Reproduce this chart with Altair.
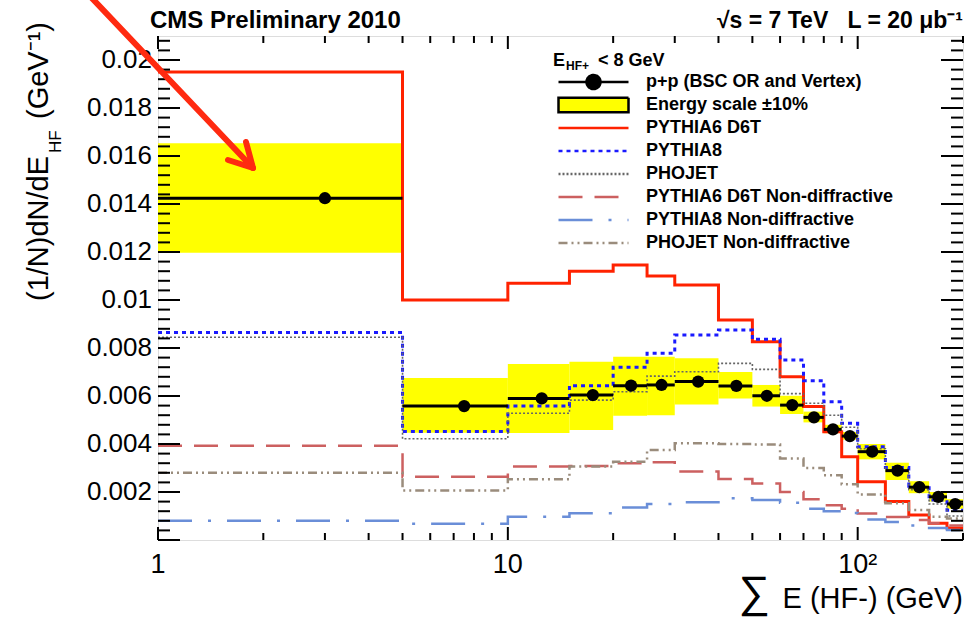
import altair as alt
import pandas as pd

# ---------------- data ----------------
EDGES = [1, 5, 10, 15, 20, 25, 30, 40, 50, 60, 70, 80, 90, 100, 120, 140, 160, 180, 200]

DATA_PP = [0.01424, 0.00558, 0.0059, 0.00604, 0.00643, 0.00646, 0.0066, 0.00642, 0.00601,
           0.00562, 0.00511, 0.00461, 0.00433, 0.00368, 0.00289, 0.0022, 0.0018, 0.0015]
BAND_LO = [0.01197, 0.00447, 0.00446, 0.00458, 0.00518, 0.0052, 0.00565, 0.0059, 0.00556,
           0.00525, 0.0049, 0.00445, 0.00418, 0.00336, 0.0025, 0.00195, 0.0016, 0.0013]
BAND_HI = [0.01653, 0.00675, 0.00733, 0.00743, 0.00764, 0.00764, 0.00757, 0.0070, 0.00646,
           0.00601, 0.00535, 0.0048, 0.0045, 0.0040, 0.00322, 0.00245, 0.0020, 0.0017]

PYTHIA6 = [0.0195, 0.0100, 0.0107, 0.0112, 0.01146, 0.0110, 0.01063, 0.00917, 0.00826,
           0.0068, 0.00556, 0.00451, 0.00347, 0.00243, 0.0016, 0.00104, 0.0007, 0.0005]
PYTHIA8 = [0.00865, 0.00452, 0.00558, 0.00643, 0.0072, 0.00778, 0.00854, 0.00875, 0.00836,
           0.0075, 0.00664, 0.00576, 0.00486, 0.00389, 0.00302, 0.00224, 0.00167, 0.00124]
PHOJET = [0.00845, 0.00422, 0.00528, 0.00583, 0.00618, 0.00683, 0.00701, 0.00736, 0.00711,
          0.0061, 0.0057, 0.0052, 0.0047, 0.0038, 0.0029, 0.0021, 0.0015, 0.0010]
PYTHIA6_ND = [0.00393, 0.00264, 0.00306, 0.00308, 0.0032, 0.00324, 0.00285, 0.00254, 0.00235,
              0.0020, 0.0017, 0.00145, 0.0013, 0.0011, 0.00096, 0.00083, 0.0007, 0.0006]
PYTHIA8_ND = [0.0008, 0.00068, 0.00097, 0.00111, 0.00135, 0.0015, 0.00157, 0.00174, 0.00167,
              0.00155, 0.0013, 0.0012, 0.00112, 0.00085, 0.00075, 0.0006, 0.0005, 0.00042]
PHOJET_ND = [0.0028, 0.00206, 0.00253, 0.00306, 0.00326, 0.00375, 0.00403, 0.0040, 0.00398,
             0.0034, 0.0030, 0.0027, 0.00232, 0.0019, 0.00153, 0.00125, 0.00097, 0.0009]

SERIES = ["p+p (BSC OR and Vertex)", "Energy scale \u00b110%", "PYTHIA6 D6T", "PYTHIA8", "PHOJET",
          "PYTHIA6 D6T Non-diffractive", "PYTHIA8 Non-diffractive", "PHOJET Non-diffractive"]

X_MAJOR = [1, 10, 100]
X_LABELS = ["1", "10", "10\u00b2"]
X_MINOR = [2, 3, 4, 5, 6, 7, 8, 9, 20, 30, 40, 50, 60, 70, 80, 90, 200]
Y_LABELS = [0.002, 0.004, 0.006, 0.008, 0.01, 0.012, 0.014, 0.016, 0.018, 0.02]
Y_MAJOR = [0.0] + Y_LABELS
Y_MINOR = [round(i * 0.0004, 4) for i in range(1, 53) if i % 5 != 0]

TITLE_LEFT = "CMS Preliminary 2010"
TITLE_RIGHT = "\u221as = 7 TeV\u00a0\u00a0\u00a0L = 20\u00a0\u03bcb\u207b\u00b9"
YT_MAIN = "(1/N)dN/dE"
YT_SUB = "HF"
YT_UNIT = "(GeV\u207b\u00b9)"
XT_SIGMA = "\u2211"
XT_MAIN = "E (HF-) (GeV)"
LEG_E = "E"
LEG_SUB = "HF+"
LEG_REST = "< 8 GeV"

# ---------------- styles ----------------
FONT = "Liberation Sans"
STROKES = ["black", "black", "#ff2200", "#1a1aff", "#666666", "#cc6060", "#6a8ed8", "#9a8c7c"]
FILLS = ["black", "#ffff00", "transparent", "transparent", "transparent", "transparent",
         "transparent", "transparent"]
DASHES = [[1, 0], [1, 0], [1, 0], [4, 4], [2, 2], [24, 12], [34, 16, 3, 16], [9, 4, 2, 4, 2, 4]]
SHAPES = ["M-1,0H1M0.2,0A0.2,0.2,0,1,1,-0.2,0A0.2,0.2,0,1,1,0.2,0Z",
          "M-1,-0.21H1V0.21H-1Z",
          "M-1,0H1", "M-1,0H1", "M-1,0H1", "M-1,0H1", "M-1,0H1", "M-1,0H1"]

W, H = 805, 504

# ---------------- tables ----------------
bins = pd.DataFrame({"lo": EDGES[:-1], "hi": EDGES[1:], "val": DATA_PP,
                     "band_lo": BAND_LO, "band_hi": BAND_HI})

model_vals = {SERIES[2]: PYTHIA6, SERIES[3]: PYTHIA8, SERIES[4]: PHOJET,
              SERIES[5]: PYTHIA6_ND, SERIES[6]: PYTHIA8_ND, SERIES[7]: PHOJET_ND}
rows = []
for name, vals in model_vals.items():
    for e, v in zip(EDGES, vals + [vals[-1]]):
        rows.append({"series": name, "edge": e, "value": v})
lines_df = pd.DataFrame(rows)

xs = alt.Scale(type="log", domain=[1, 200], nice=False)
ys = alt.Scale(domain=[0, 0.021], nice=False, zero=False)

stroke_scale = alt.Scale(domain=SERIES, range=STROKES)
fill_scale = alt.Scale(domain=SERIES, range=FILLS)
dash_scale = alt.Scale(domain=SERIES, range=DASHES)
shape_scale = alt.Scale(domain=SERIES, range=SHAPES)

# ---------------- legend carrier (first layer so its legend settings win) ----------------
leg = alt.Legend(title=None, orient="none", legendX=399, legendY=35.5, padding=0,
                 symbolSize=4900, symbolStrokeWidth=2.5, symbolFillColor="white",
                 symbolStrokeColor="black", symbolOffset=0, symbolOpacity=1,
                 clipHeight=21, rowPadding=2,
                 labelFont=FONT, labelFontSize=18, labelFontWeight="bold", labelColor="black",
                 labelOffset=16, labelLimit=500)

carrier = alt.Chart(pd.DataFrame({"series": SERIES})).transform_filter("false").mark_point().encode(
    shape=alt.Shape("series:N", scale=shape_scale, legend=leg),
    fill=alt.Fill("series:N", scale=fill_scale, legend=leg),
    stroke=alt.Stroke("series:N", scale=stroke_scale, legend=leg),
    strokeDash=alt.StrokeDash("series:N", scale=dash_scale, legend=leg))

# ---------------- data layers ----------------
band = alt.Chart(bins).mark_rect(color="#ffff00").encode(
    x=alt.X("lo:Q", scale=xs, axis=None), x2="hi:Q",
    y=alt.Y("band_lo:Q", scale=ys, axis=None), y2="band_hi:Q")


def model_layer(names, width):
    return alt.Chart(lines_df).transform_filter(
        alt.FieldOneOfPredicate(field="series", oneOf=names)
    ).mark_line(interpolate="step-after", strokeWidth=width, clip=True).encode(
        x=alt.X("edge:Q", scale=xs, axis=None),
        y=alt.Y("value:Q", scale=ys, axis=None),
        stroke=alt.Stroke("series:N", scale=stroke_scale, legend=None),
        strokeDash=alt.StrokeDash("series:N", scale=dash_scale, legend=None))


lineA = model_layer([SERIES[2], SERIES[3]], 3)
lineB = model_layer([SERIES[4]], 1.6)
lineC = model_layer([SERIES[5], SERIES[6], SERIES[7]], 2.5)

errx = alt.Chart(bins).mark_rule(color="black", strokeWidth=3).encode(
    x=alt.X("lo:Q", scale=xs, axis=None), x2="hi:Q",
    y=alt.Y("val:Q", scale=ys, axis=None))

points = alt.Chart(bins).transform_calculate(center="(datum.lo + datum.hi) / 2").mark_circle(
    color="black", size=150, opacity=1).encode(
    x=alt.X("center:Q", scale=xs, axis=None),
    y=alt.Y("val:Q", scale=ys, axis=None))


# ---------------- inward ROOT-style ticks on all four sides ----------------
def xticks(values, center, length):
    return alt.Chart(pd.DataFrame({"tv": values})).mark_tick(
        orient="vertical", size=length, thickness=2, color="black", opacity=1).encode(
        x=alt.X("tv:Q", scale=xs, axis=None), y=alt.value(center))


def yticks(values, center, length):
    return alt.Chart(pd.DataFrame({"tv": values})).mark_tick(
        orient="horizontal", size=length, thickness=2, color="black", opacity=1).encode(
        y=alt.Y("tv:Q", scale=ys, axis=None), x=alt.value(center))


ticks = [
    xticks(X_MAJOR, H - 6.5, 13), xticks(X_MINOR, H - 3.5, 7),
    xticks(X_MAJOR, 6.5, 13), xticks(X_MINOR, 3.5, 7),
    yticks(Y_MAJOR, 11, 22), yticks(Y_MINOR, 6, 12),
    yticks(Y_MAJOR, W - 11, 22), yticks(Y_MINOR, W - 6, 12),
]

# ---------------- tick labels, placed through the scales ----------------
xlabels = alt.Chart(pd.DataFrame({"v": X_MAJOR, "lab": X_LABELS})).mark_text(
    font=FONT, fontSize=27, baseline="top", align="center", color="black").encode(
    x=alt.X("v:Q", scale=xs, axis=None), y=alt.value(H + 12), text="lab:N")

ylabels = alt.Chart(pd.DataFrame({"v": Y_LABELS})).transform_calculate(
    lab="format(datum.v, '.3~f')").mark_text(
    font=FONT, fontSize=26, baseline="middle", align="right", color="black").encode(
    y=alt.Y("v:Q", scale=ys, axis=None), x=alt.value(-6), text="lab:N")


def label(text, x, y, size, bold=True, align="left", angle=0, baseline="alphabetic"):
    kw = dict(font=FONT, fontSize=size, fontWeight="bold" if bold else "normal",
              align=align, baseline=baseline, color="black")
    if angle:
        kw["angle"] = angle
    return alt.Chart(pd.DataFrame({"t": [text]})).mark_text(**kw).encode(
        text="t:N", x=alt.value(x), y=alt.value(y))


texts = [
    label(TITLE_LEFT, -8, -8, 24),
    label(TITLE_RIGHT, 805, -8, 23, align="right"),
    label(YT_MAIN, -110, 265, 29, bold=False, angle=270),
    label(YT_SUB, -97, 117, 17, bold=False, angle=270),
    label(YT_UNIT, -110, 83, 29, bold=False, angle=270),
    label(XT_MAIN, 805, 572, 29, bold=False, align="right"),
    label(XT_SIGMA, 612, 558, 44, bold=False, align="right", baseline="middle"),
    label(LEG_E, 395, 30, 18),
    label(LEG_SUB, 408, 34, 12),
    label(LEG_REST, 440, 30, 18),
]

arrow_df = pd.DataFrame({"a": [0]})
arrow = [
    alt.Chart(arrow_df).mark_rule(color="#ff2a10", strokeWidth=6, strokeCap="round").encode(
        x=alt.value(x0), y=alt.value(y0), x2=alt.value(x1), y2=alt.value(y1))
    for (x0, y0, x1, y1) in [(-70, -42, 94, 131), (88, 106, 95, 132), (70, 124, 95, 132)]
]

chart = alt.layer(carrier, band, lineA, lineB, lineC, errx, points, *ticks, xlabels, ylabels,
                  *texts, *arrow).properties(
    width=W, height=H, autosize=alt.AutoSizeParams(type="none"),
    padding={"left": 158, "top": 36, "right": 11, "bottom": 79}
).configure_view(stroke="black", strokeWidth=3).configure(font=FONT, background="white")

chart.save("out.html", embed_options={"renderer": "svg", "actions": False})
